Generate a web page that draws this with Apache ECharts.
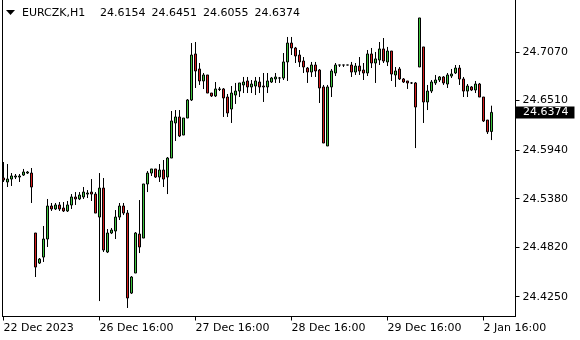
<!DOCTYPE html>
<html><head><meta charset="utf-8">
<script src="https://cdn.jsdelivr.net/npm/echarts@6/dist/echarts.min.js"></script>
<style>html,body{margin:0;padding:0;background:#fff}#c{width:580px;height:340px}</style>
</head><body><div id="c"></div>
<script>
const symbolName = 'EURCZK,H1';
const opens = [24.5618,24.5572,24.5606,24.5629,24.5629,24.5652,24.5675,24.5675,24.4984,24.4638,
24.4707,24.4915,24.5295,24.5261,24.5307,24.5272,24.5238,24.5307,24.5399,24.5376,
24.5399,24.5433,24.5456,24.5433,24.5168,24.5502,24.4765,24.4984,24.5007,24.5168,
24.5295,24.5214,24.4292,24.4523,24.4972,24.4926,24.5549,24.5675,24.5722,24.5629,
24.5710,24.5629,24.5848,24.6252,24.6321,24.6113,24.6309,24.6517,24.7047,24.6874,
24.6736,24.6805,24.6597,24.6563,24.6638,24.6644,24.6551,24.6413,24.6574,24.6620,
24.6690,24.6736,24.6667,24.6678,24.6724,24.6678,24.6667,24.6724,24.6759,24.6770,
24.6770,24.6955,24.7173,24.7116,24.7035,24.6966,24.6885,24.6839,24.6920,24.6862,
24.6667,24.5987,24.6667,24.6828,24.6920,24.6920,24.6920,24.6920,24.6839,24.6908,
24.6862,24.6828,24.7047,24.6943,24.6978,24.7105,24.6955,24.7081,24.6805,24.6874,
24.6759,24.6736,24.6713,24.6713,24.6897,24.7128,24.6494,24.6620,24.6713,24.6747,
24.6782,24.6701,24.6793,24.6828,24.6885,24.6759,24.6620,24.6667,24.6632,24.6701,
24.6551,24.6286,24.6154];
const highs = [24.5802,24.5779,24.5675,24.5664,24.5664,24.5722,24.5698,24.5733,24.4984,24.4696,
24.5065,24.5376,24.5330,24.5330,24.5341,24.5341,24.5353,24.5433,24.5456,24.5456,
24.5514,24.5479,24.5606,24.5456,24.5675,24.5618,24.5030,24.5042,24.5249,24.5330,
24.5330,24.5249,24.4488,24.4995,24.5364,24.5549,24.5698,24.5722,24.5722,24.5779,
24.5825,24.5860,24.6390,24.6401,24.6401,24.6309,24.6528,24.7173,24.7185,24.6943,
24.6828,24.6805,24.6597,24.6724,24.6667,24.6655,24.6586,24.6678,24.6713,24.6713,
24.6782,24.6782,24.6747,24.6782,24.6782,24.6828,24.6828,24.6782,24.6828,24.6782,
24.7058,24.7243,24.7243,24.7128,24.7093,24.7012,24.6897,24.6955,24.6955,24.6874,
24.6690,24.6690,24.6874,24.6943,24.6920,24.6920,24.6920,24.6955,24.6943,24.7012,
24.6943,24.7093,24.7116,24.7070,24.7185,24.7231,24.7128,24.7081,24.6897,24.6897,
24.6770,24.6736,24.6724,24.6724,24.7462,24.7128,24.6690,24.6747,24.6805,24.6793,
24.6793,24.6828,24.6874,24.6920,24.6920,24.6782,24.6701,24.6678,24.6736,24.6713,
24.6551,24.6286,24.6451];
const lows = [24.5572,24.5514,24.5526,24.5606,24.5572,24.5641,24.5664,24.5330,24.4477,24.4627,
24.4650,24.4823,24.5238,24.5249,24.5238,24.5226,24.5226,24.5261,24.5307,24.5364,
24.5376,24.5387,24.5353,24.5214,24.4200,24.4765,24.4753,24.4972,24.4915,24.5134,
24.5191,24.4120,24.4281,24.4523,24.4753,24.4926,24.5456,24.5641,24.5618,24.5572,
24.5514,24.5433,24.5848,24.6044,24.6090,24.6113,24.6309,24.6505,24.6655,24.6690,
24.6643,24.6597,24.6551,24.6551,24.6620,24.6321,24.6321,24.6252,24.6471,24.6551,
24.6597,24.6597,24.6597,24.6574,24.6597,24.6494,24.6597,24.6713,24.6713,24.6713,
24.6747,24.6736,24.7035,24.6943,24.6897,24.6828,24.6713,24.6782,24.6782,24.6482,
24.6021,24.5987,24.6551,24.6793,24.6897,24.6897,24.6920,24.6782,24.6805,24.6805,
24.6747,24.6793,24.6885,24.6713,24.6920,24.6943,24.6908,24.6736,24.6667,24.6747,
24.6713,24.6644,24.6701,24.5963,24.6897,24.6252,24.6401,24.6597,24.6690,24.6724,
24.6690,24.6655,24.6770,24.6816,24.6690,24.6551,24.6551,24.6620,24.6597,24.6551,
24.6263,24.6125,24.6055];
const closes = [24.5595,24.5606,24.5641,24.5641,24.5641,24.5687,24.5687,24.5514,24.4592,24.4684,
24.4915,24.5295,24.5261,24.5307,24.5261,24.5238,24.5307,24.5399,24.5376,24.5422,
24.5456,24.5445,24.5433,24.5214,24.5502,24.4788,24.4984,24.5018,24.5168,24.5295,
24.5214,24.4235,24.4477,24.4984,24.4823,24.5549,24.5675,24.5722,24.5629,24.5710,
24.5606,24.5848,24.6275,24.6321,24.6102,24.6309,24.6517,24.7035,24.6851,24.6736,
24.6805,24.6597,24.6563,24.6644,24.6644,24.6540,24.6367,24.6597,24.6620,24.6713,
24.6724,24.6667,24.6701,24.6736,24.6667,24.6667,24.6736,24.6770,24.6782,24.6770,
24.6955,24.7173,24.7116,24.7024,24.6955,24.6897,24.6839,24.6920,24.6851,24.6655,
24.6021,24.6667,24.6851,24.6920,24.6920,24.6920,24.6920,24.6839,24.6908,24.6851,
24.6828,24.7047,24.6943,24.6990,24.7105,24.6966,24.7081,24.6816,24.6851,24.6759,
24.6724,24.6713,24.6713,24.6436,24.7462,24.6494,24.6620,24.6724,24.6747,24.6782,
24.6713,24.6805,24.6816,24.6885,24.6759,24.6620,24.6678,24.6632,24.6701,24.6551,
24.6275,24.6150,24.6374];
const timeTickIndex = [0, 24, 48, 72, 96, 120];
const timeTickLabels = ['22 Dec 2023', '26 Dec 16:00', '27 Dec 16:00', '28 Dec 16:00', '29 Dec 16:00', '2 Jan 16:00'];
const priceTicks = [24.4250, 24.4820, 24.5380, 24.5940, 24.6510, 24.7070];
const priceMin = 24.4022, priceMax = 24.7669;

const FONT = 'DejaVu Sans';
const n = opens.length;
const last = [opens[n-1], highs[n-1], lows[n-1], closes[n-1]];
const data = opens.map((o, i) => [i, o, closes[i], lows[i], highs[i]]);

const chart = echarts.init(document.getElementById('c'), null, {renderer: 'canvas'});
const graphics = [
  {type: 'polygon', shape: {points: [[6, 10], [15, 10], [10.5, 15]]}, style: {fill: '#000'}},
  {type: 'text', x: 22, y: 13, style: {text: symbolName, fill: '#000', font: '11px "' + FONT + '"', verticalAlign: 'middle'}}
];
last.forEach((v, k) => graphics.push({type: 'text', x: 100 + 51.5 * k, y: 13,
  style: {text: v.toFixed(4), fill: '#000', font: '11px "' + FONT + '"', verticalAlign: 'middle'}}));

chart.setOption({
  animation: false,
  backgroundColor: '#fff',
  grid: {left: 2.5, right: 64.5, top: 0, bottom: 23.5, containLabel: false},
  xAxis: {
    type: 'value', min: -0.25, max: 128,
    axisLine: {show: true, lineStyle: {color: '#000', width: 1}},
    axisTick: {show: true, customValues: timeTickIndex, length: 4, lineStyle: {color: '#000'}},
    axisLabel: {show: true, customValues: timeTickIndex, align: 'left', margin: 6,
      color: '#000', fontFamily: FONT, fontSize: 11,
      formatter: v => timeTickLabels[timeTickIndex.indexOf(Math.round(v))] || ''},
    splitLine: {show: false}
  },
  yAxis: [
    {type: 'value', position: 'right', min: priceMin, max: priceMax,
      axisLine: {show: true, onZero: false, lineStyle: {color: '#000', width: 1}},
      axisTick: {show: true, customValues: priceTicks, length: 4, lineStyle: {color: '#000'}},
      axisLabel: {show: true, customValues: priceTicks, margin: 7, color: '#000', fontFamily: FONT, fontSize: 11,
        formatter: v => v.toFixed(4)},
      splitLine: {show: false}},
    {type: 'value', position: 'left', min: priceMin, max: priceMax,
      axisLine: {show: true, onZero: false, lineStyle: {color: '#000', width: 1}},
      axisTick: {show: false}, axisLabel: {show: false}, splitLine: {show: false}},
    {type: 'value', position: 'right', min: priceMin, max: priceMax, z: 5,
      axisLine: {show: false}, axisTick: {show: false}, splitLine: {show: false},
      axisLabel: {show: true, customValues: [closes[n-1]], margin: 0.5, color: '#fff', backgroundColor: '#000',
        padding: [0, 6, 0, 7], lineHeight: 12, fontFamily: FONT, fontSize: 11,
        formatter: v => v.toFixed(4)}}
  ],
  series: [{
    type: 'candlestick',
    data: data,
    encode: {x: 0, y: [1, 2, 3, 4]},
    barWidth: 2,
    itemStyle: {color: '#3ec43e', color0: '#d41c1c', borderColor: '#000', borderColor0: '#000', borderWidth: 1},
    emphasis: {disabled: true},
    silent: true
  }],
  graphic: graphics
});
</script></body></html>
